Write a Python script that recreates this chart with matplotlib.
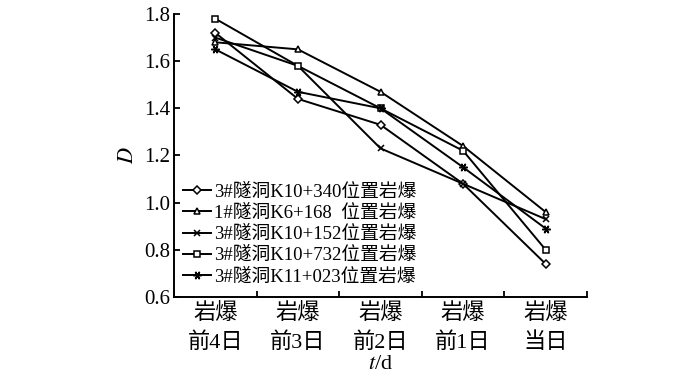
import numpy as np
from matplotlib import pyplot as plt

plt.rcParams['font.family'] = ['Liberation Serif', 'Noto Sans CJK SC']
plt.rcParams['mathtext.fontset'] = 'stix'

days = ['岩爆\n前4日', '岩爆\n前3日', '岩爆\n前2日', '岩爆\n前1日', '岩爆\n当日']

labels = ['3#隧洞K10+340位置岩爆',
          '1#隧洞K6+168  位置岩爆',
          '3#隧洞K10+152位置岩爆',
          '3#隧洞K10+732位置岩爆',
          '3#隧洞K11+023位置岩爆']

d_k10_340 = [1.72, 1.44, 1.33, 1.08, 0.74]
d_k6_168 = [1.68, 1.65, 1.47, 1.24, 0.96]
d_k10_152 = [1.70, 1.58, 1.23, 1.08, 0.93]
d_k10_732 = [1.78, 1.58, 1.40, 1.22, 0.80]
d_k11_023 = [1.65, 1.47, 1.40, 1.15, 0.89]

series = [d_k10_340, d_k6_168, d_k10_152, d_k10_732, d_k11_023]
markers = ['D', '^', 'x', 's', (6, 2, 90)]
msizes = [4, 5, 5, 5, 6]

FONTSIZE = 15

fig = plt.figure(figsize=(7, 3.81), dpi=100)
ax = fig.add_axes([0.2486, 0.2205, 0.59, 0.7428])

x = np.arange(len(days))
for y, m, ms, lab in zip(series, markers, msizes, labels):
    ax.plot(x, y, color='black', lw=1.4, marker=m, ms=ms,
            mfc='white', mec='black', mew=1.1, label=lab)

ax.set_xlim(-0.5, 4.5)
ax.set_ylim(0.6, 1.8)
yt = np.arange(0.6, 1.81, 0.2)
ax.set_yticks(yt)
ax.set_yticklabels([f'{v:.1f}' for v in yt], fontsize=FONTSIZE)
ax.set_xticks(x)
ax.set_xticklabels(days, fontsize=16, linespacing=1.55)
ax.tick_params(axis='x', length=0, pad=4)
ax.set_xticks(np.arange(-0.5, 4.6, 1), minor=True)
ax.tick_params(axis='x', which='minor', direction='in', length=4, width=1.3)
ax.tick_params(axis='y', direction='in', length=4, width=1.3, pad=3)

for s in ['top', 'right']:
    ax.spines[s].set_visible(False)
for s in ['left', 'bottom']:
    ax.spines[s].set_linewidth(1.4)

ax.set_ylabel('$D$', fontsize=16, labelpad=4)
ax.set_xlabel('$t$/d', fontsize=16)
ax.xaxis.set_label_coords(0.5, -0.205)

ax.legend(loc='upper left', bbox_to_anchor=(0.0, 0.435), frameon=False,
          fontsize=13.5, handlelength=1.45, handletextpad=0.2,
          labelspacing=0.22, borderaxespad=0.3, borderpad=0.2)

fig.savefig('out.png', dpi=100)
